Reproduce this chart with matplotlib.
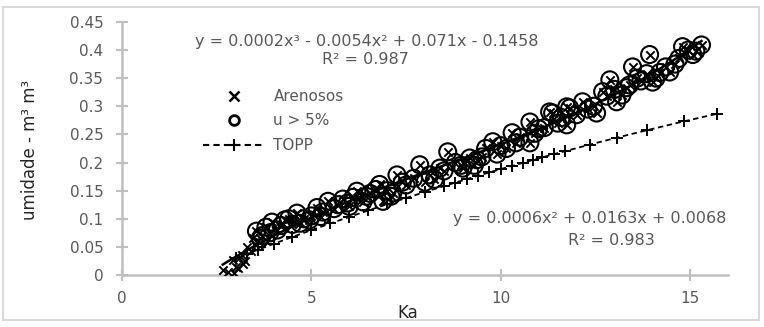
import numpy as np
import matplotlib
matplotlib.use("Agg")
import matplotlib.pyplot as plt
from matplotlib.lines import Line2D
from matplotlib.patches import Rectangle

plt.rcParams['font.family'] = ['DejaVu Sans']

# ---- data ----
low_ka = [2.66, 2.80, 2.93, 3.00, 3.06, 3.10, 3.17, 3.25, 3.30, 3.40, 3.46, 3.50, 3.60, 3.20, 2.95]
low_u = [0.009, 0.005, 0.027, 0.015, 0.012, 0.030, 0.036, 0.025, 0.050, 0.042, 0.066, 0.055, 0.060, 0.020, 0.004]

u5_ka = [3.55, 3.70, 3.80, 3.96, 4.10, 4.30, 4.50, 4.62, 4.80, 5.00, 5.15, 5.30, 5.44,
         5.60, 5.83, 6.00, 6.20, 6.36, 6.55, 6.80, 6.89, 7.00, 7.26, 7.15, 7.50, 7.86,
         8.13, 8.00, 8.39, 8.60, 8.80, 9.00, 9.18, 9.37, 9.60, 9.79, 10.00, 10.30, 10.50,
         10.77, 10.77, 11.00, 11.29, 11.37, 11.50, 11.74, 11.74, 11.82, 12.00, 12.16,
         12.53, 12.69, 12.88, 13.06, 13.20, 13.32, 13.48, 13.70, 13.93, 14.01, 14.20,
         14.46, 14.60, 14.80, 15.07, 15.30,
         3.65, 3.90, 4.20, 4.40, 4.70, 4.95, 5.25, 5.70, 5.95, 6.10, 6.45, 6.70, 7.10,
         7.40, 7.70, 8.25, 8.50, 8.95, 9.30, 9.50, 9.90, 10.15, 10.40, 10.90, 11.15,
         11.60, 12.30, 12.45, 12.80, 13.00, 13.40, 13.60, 13.85, 14.10, 14.35, 14.70,
         14.95, 15.15]
u5_u = [0.078, 0.070, 0.085, 0.094, 0.080, 0.098, 0.090, 0.110, 0.100, 0.105, 0.120, 0.112, 0.131,
        0.118, 0.135, 0.122, 0.149, 0.130, 0.145, 0.161, 0.131, 0.150, 0.178, 0.146, 0.160, 0.196,
        0.178, 0.165, 0.190, 0.219, 0.200, 0.190, 0.208, 0.205, 0.225, 0.237, 0.230, 0.253, 0.245,
        0.272, 0.235, 0.260, 0.290, 0.288, 0.270, 0.299, 0.267, 0.297, 0.285, 0.308,
        0.288, 0.326, 0.347, 0.308, 0.320, 0.333, 0.370, 0.345, 0.392, 0.343, 0.360,
        0.361, 0.375, 0.406, 0.392, 0.409,
        0.065, 0.075, 0.088, 0.100, 0.092, 0.098, 0.104, 0.125, 0.128, 0.138, 0.140, 0.152, 0.140,
        0.165, 0.172, 0.170, 0.185, 0.195, 0.195, 0.210, 0.215, 0.225, 0.235, 0.252, 0.262,
        0.280, 0.295, 0.300, 0.318, 0.330, 0.338, 0.350, 0.358, 0.350, 0.370, 0.385,
        0.400, 0.398]

arenosos_ka = low_ka + u5_ka
arenosos_u = low_u + u5_u

topp_ka = [3.0, 3.3, 3.6, 4.0, 4.5, 5.0, 5.5, 6.0, 6.5, 7.0, 7.5, 8.0, 8.5, 8.8, 9.1, 9.4,
           9.7, 10.0, 10.3, 10.6, 10.85, 11.1, 11.4, 11.7, 12.35, 13.06, 13.85, 14.83, 15.7]
topp_u = [0.0298, 0.0375, 0.0452, 0.0553, 0.0677, 0.0798, 0.0917, 0.1033, 0.1147, 0.1259,
          0.1369, 0.1476, 0.1581, 0.1643, 0.1704, 0.1765, 0.1824, 0.1883, 0.1941, 0.1998,
          0.2046, 0.2092, 0.2148, 0.2202, 0.2318, 0.2441, 0.2573, 0.2731, 0.2865]

x_ticks = [0, 5, 10, 15]
y_ticks = [0, 0.05, 0.1, 0.15, 0.2, 0.25, 0.3, 0.35, 0.4, 0.45]
y_ticklabels = ['0', '0.05', '0.1', '0.15', '0.2', '0.25', '0.3', '0.35', '0.4', '0.45']

eq1 = "y = 0.0002x³ - 0.0054x² + 0.071x - 0.1458"
r1 = "R² = 0.987"
eq2 = "y = 0.0006x² + 0.0163x + 0.0068"
r2 = "R² = 0.983"

# ---- figure ----
fig = plt.figure(figsize=(7.64, 3.27), dpi=100)
fig.patches.append(Rectangle((0.004, 0.021), 0.9895, 0.957, transform=fig.transFigure,
                             fill=False, edgecolor='#d9d9d9', lw=1.5))
ax = fig.add_axes([0.1597, 0.159, 0.7932, 0.774])

gray_axis = '#bfbfbf'
gray_text = '#595959'
fs = 11

ax.plot(topp_ka, topp_u, linestyle=(0, (3, 2)), color='black', lw=1.3,
        marker='+', markersize=8, markeredgewidth=1.4, zorder=2)

# cubic trend of the data
coef = np.polyfit(arenosos_ka, arenosos_u, 3)
xx = np.linspace(min(arenosos_ka), max(arenosos_ka), 200)
ax.plot(xx, np.polyval(coef, xx), color='black', lw=1.8, zorder=3)

ax.scatter(arenosos_ka, arenosos_u, marker='x', s=36, color='black', linewidths=1.4, zorder=4)
ax.scatter(u5_ka, u5_u, marker='o', s=150, facecolors='none', edgecolors='black',
           linewidths=1.5, zorder=5)

ax.set_xlim(0, 16)
ax.set_ylim(0, 0.45)
ax.set_xticks(x_ticks)
ax.set_yticks(y_ticks)
ax.set_yticklabels(y_ticklabels)

for s in ['top', 'right']:
    ax.spines[s].set_visible(False)
for s in ['left', 'bottom']:
    ax.spines[s].set_color(gray_axis)
    ax.spines[s].set_linewidth(1.8)
ax.tick_params(direction='inout', length=9, width=1.5, color=gray_axis,
               labelcolor=gray_text, labelsize=fs, pad=9)
ax.tick_params(axis='x', pad=7)

ax.set_xlabel('Ka', fontsize=12, color='#262626')
ax.xaxis.set_label_coords(0.472, -0.115)
ax.set_ylabel('umidade - m³ m³', fontsize=12, color='#262626')
ax.yaxis.set_label_coords(-0.137, 0.494)

ax.text(6.47, 0.416, eq1, ha='center', va='center', fontsize=11.5, color=gray_text)
ax.text(6.44, 0.384, r1, ha='center', va='center', fontsize=11.5, color=gray_text)
ax.text(12.35, 0.101, eq2, ha='center', va='center', fontsize=11.5, color=gray_text)
ax.text(12.93, 0.062, r2, ha='center', va='center', fontsize=11.5, color=gray_text)

handles = [
    Line2D([], [], marker='x', color='black', linestyle='none', markersize=7, markeredgewidth=1.8),
    Line2D([], [], marker='o', color='black', markerfacecolor='none', linestyle='none',
           markersize=7, markeredgewidth=2.0),
    Line2D([], [], marker='+', color='black', linestyle=(0, (3, 2)), lw=1.5,
           markersize=9, markeredgewidth=1.5),
]
leg = ax.legend(handles, ['Arenosos', 'u > 5%', 'TOPP'], loc='upper left',
                bbox_to_anchor=(0.134, 0.735), frameon=False, fontsize=fs,
                handlelength=4.0, handletextpad=0.6, labelspacing=0.62, borderpad=0,
                borderaxespad=0)
for t in leg.get_texts():
    t.set_color(gray_text)

fig.savefig('out.png', dpi=100)
